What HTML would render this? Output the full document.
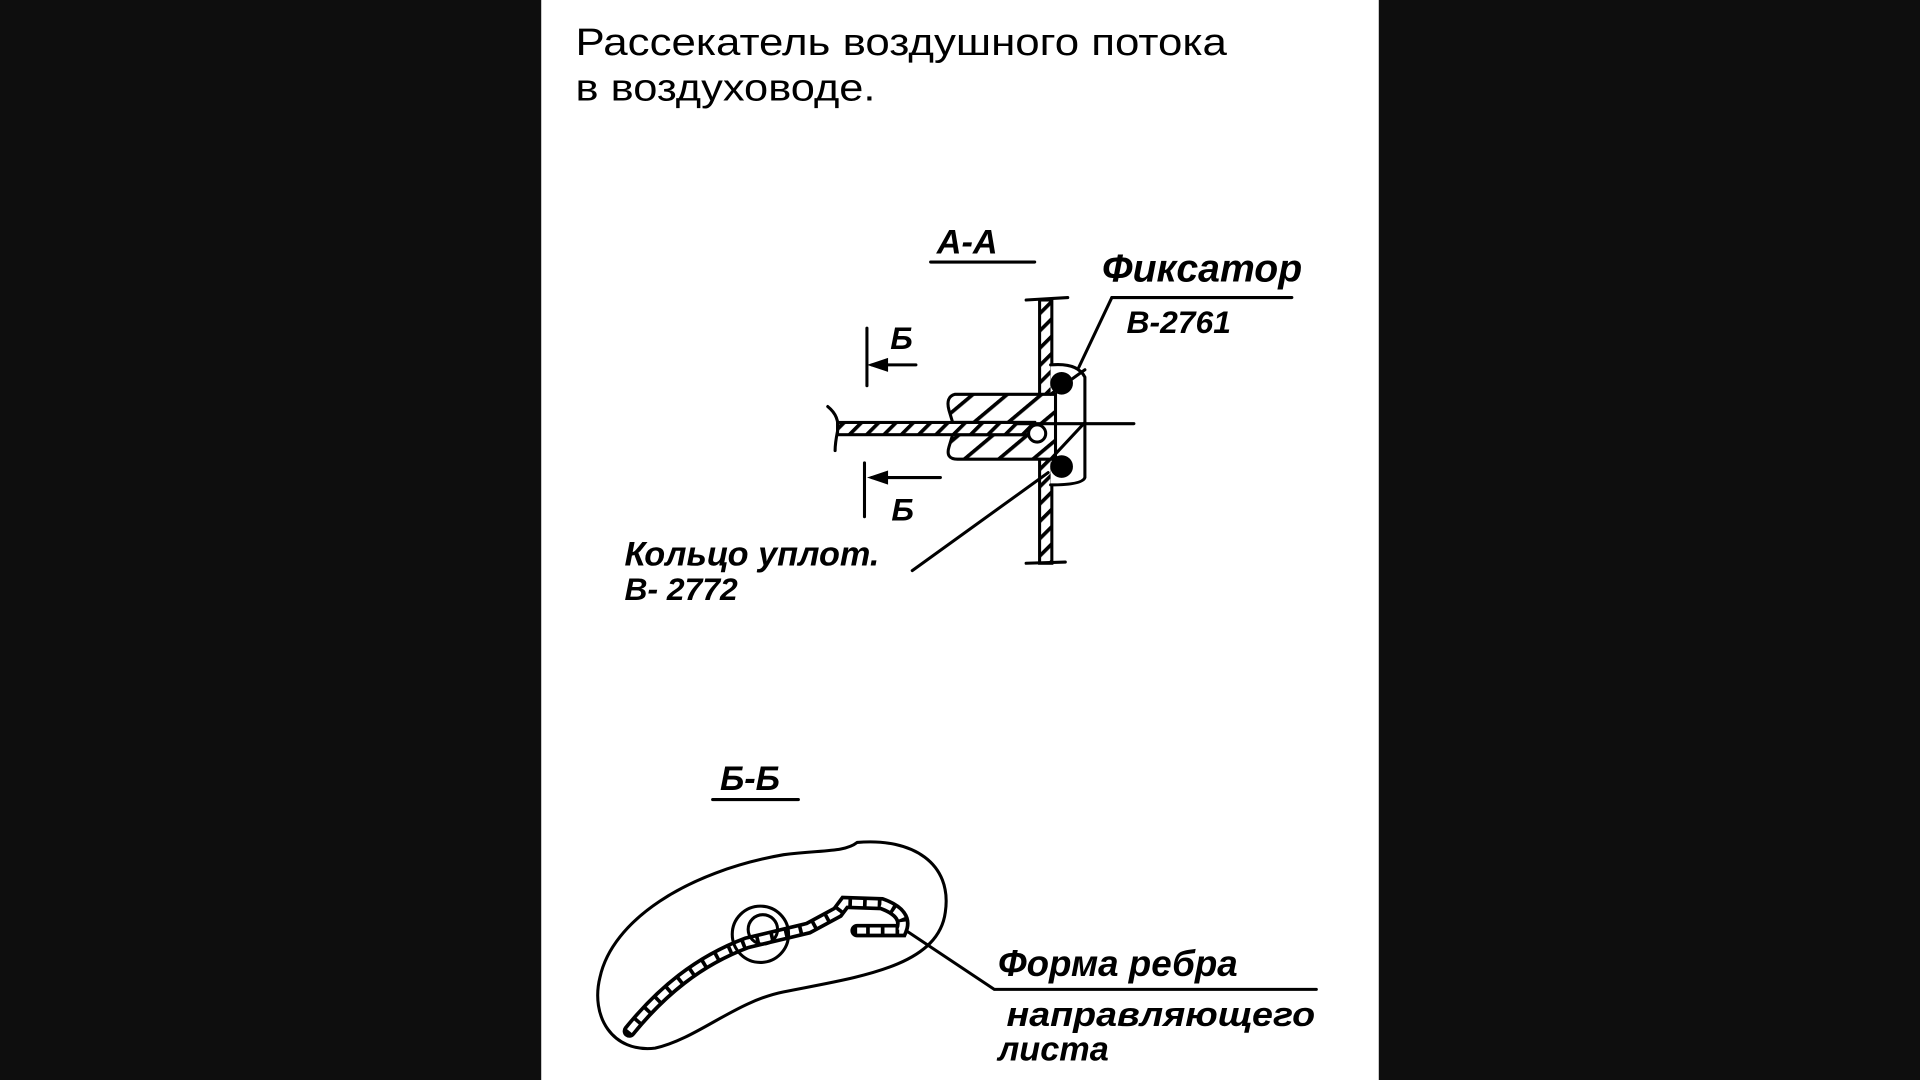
<!DOCTYPE html>
<html><head><meta charset="utf-8"><style>
html,body{margin:0;padding:0;background:#0e0e0e;}
svg{display:block;}
.h{font-family:"Liberation Sans","DejaVu Sans",sans-serif;}
.it{font-family:"Liberation Sans","DejaVu Sans",sans-serif;font-style:italic;font-weight:bold;}
</style></head><body>
<svg width="1920" height="1080" viewBox="0 0 1568 882" xmlns="http://www.w3.org/2000/svg">
<defs>
<pattern id="hat" width="10" height="10" patternUnits="userSpaceOnUse" patternTransform="rotate(45)">
<rect width="10" height="10" fill="#fff"/><rect x="0" y="0" width="3" height="10" fill="#000"/></pattern>
<pattern id="hat2" width="18" height="18" patternUnits="userSpaceOnUse" patternTransform="rotate(50)">
<rect width="18" height="18" fill="#fff"/><rect x="0" y="0" width="3" height="18" fill="#000"/></pattern>
</defs>
<rect x="0" y="0" width="1568" height="882" fill="#0e0e0e"/>
<rect x="442" y="0" width="684" height="882" fill="#fff"/>
<text class="h" x="470" y="45" font-size="31" font-weight="500" textLength="532" lengthAdjust="spacingAndGlyphs">Рассекатель воздушного потока</text>
<text class="h" x="470" y="82" font-size="31" font-weight="500" textLength="245" lengthAdjust="spacingAndGlyphs">в воздуховоде.</text>

<g stroke="#000" fill="none" stroke-width="2.5" stroke-linecap="round">
<line x1="760" y1="214" x2="845" y2="214"/>
<rect x="849" y="245" width="10" height="215" fill="url(#hat)"/>
<line x1="838" y1="245" x2="872" y2="243"/>
<line x1="838" y1="460" x2="870" y2="459"/>
<path d="M858,298 Q880,296 886,308 L886,390 Q884,396 858,396" fill="#fff"/>
<path d="M862,322 L780,322 Q772,324 775,335 L778,345 L845,345 L845,355 L778,355 L775,365 Q772,375 782,375 L862,375 Z" fill="url(#hat2)"/>
<line x1="858" y1="322" x2="886" y2="302"/>
<line x1="858" y1="375" x2="886" y2="345"/>
<rect x="684" y="345" width="160" height="10" fill="url(#hat)"/>
<path d="M676,332 Q686,340 684,352 Q682,362 682,368"/>
<circle cx="847" cy="354" r="7" fill="#fff"/>
<circle cx="867" cy="313" r="8" fill="#000"/>
<circle cx="867" cy="381" r="8" fill="#000"/>
<line x1="830" y1="346" x2="926" y2="346"/>
<line x1="708" y1="268" x2="708" y2="315"/>
<line x1="712" y1="298" x2="748" y2="298"/>
<path d="M712,298 L724,294 L724,302 Z" fill="#000"/>
<line x1="706" y1="378" x2="706" y2="422"/>
<line x1="712" y1="390" x2="768" y2="390"/>
<path d="M712,390 L724,386 L724,394 Z" fill="#000"/>
<line x1="908" y1="243" x2="1055" y2="243"/>
<line x1="908" y1="243" x2="881" y2="300"/>
<line x1="745" y1="466" x2="856" y2="386"/>
<line x1="582" y1="653" x2="652" y2="653"/>
<path d="M700,688 C745,684 778,705 772,745 C766,790 700,798 640,810 C600,818 570,848 535,856 C500,860 482,830 490,798 C500,752 560,712 640,698 C672,694 690,696 700,688 Z"/>
<path d="M514,842 C540,810 570,785 610,770 L660,758 L684,745 L690,737 L720,738 Q742,746 736,760 L700,760" stroke-width="11"/>
<path d="M514,842 C540,810 570,785 610,770 L660,758 L684,745 L690,737 L720,738 Q742,746 736,760 L700,760" stroke="#fff" stroke-width="5" stroke-dasharray="9 3" stroke-linecap="butt"/>
<circle cx="621" cy="763" r="23"/>
<circle cx="623" cy="759" r="12"/>
<path d="M740,760 L812,808 L1075,808"/>
</g>

<g class="it" fill="#000">
<text x="765" y="207" font-size="28">А-А</text>
<text x="900" y="230" font-size="32">Фиксатор</text>
<text x="920" y="272" font-size="26">В-2761</text>
<text x="727" y="285" font-size="26">Б</text>
<text x="728" y="425" font-size="26">Б</text>
<text x="510" y="462" font-size="28">Кольцо уплот.</text>
<text x="510" y="490" font-size="26">В- 2772</text>
<text x="588" y="645" font-size="28">Б-Б</text>
<text x="815" y="797" font-size="30">Форма  ребра</text>
<text x="822" y="838" font-size="28" textLength="252" lengthAdjust="spacingAndGlyphs">направляющего</text>
<text x="815" y="866" font-size="28">листа</text>
</g>
</svg>
</body></html>
